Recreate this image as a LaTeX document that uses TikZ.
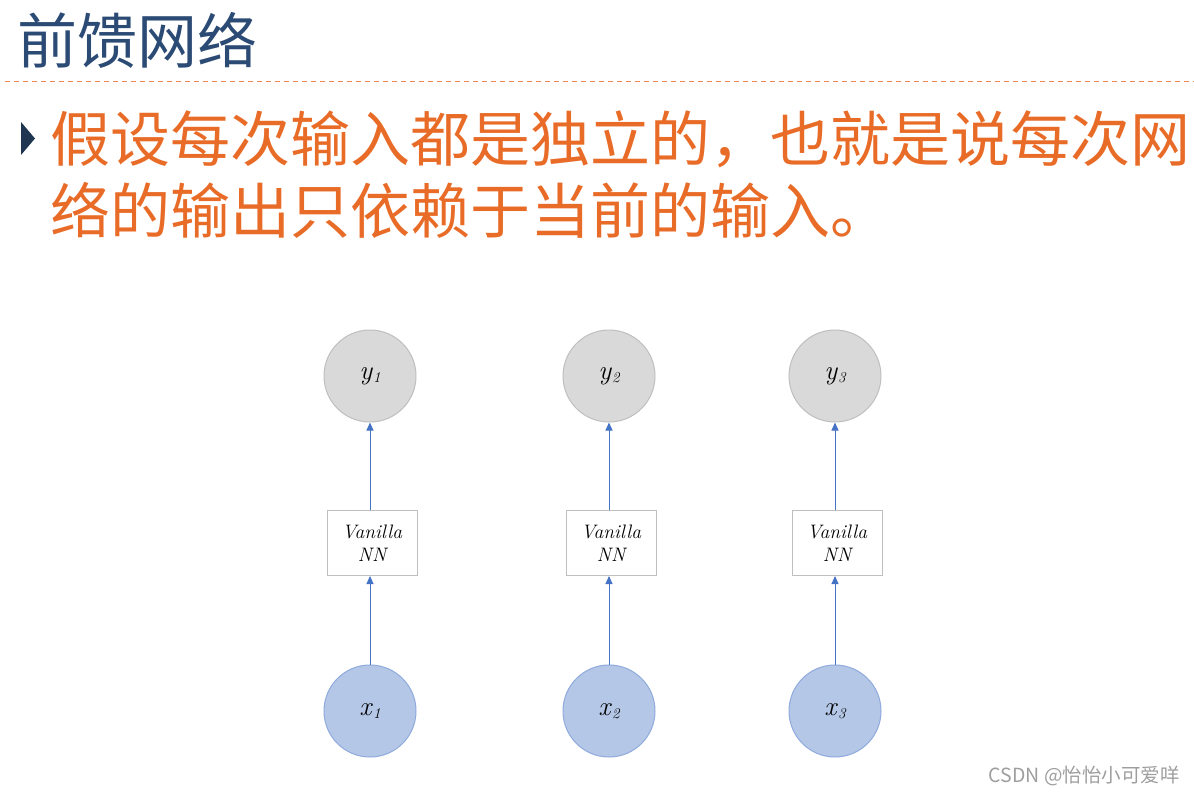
\documentclass[tikz,border=0pt]{standalone}
\usepackage{fontspec}
\usepackage{xcolor}
\usepackage{amsmath}
\usetikzlibrary{arrows.meta}
\newfontfamily\cjk{Noto Sans CJK SC}

\definecolor{titleblue}{RGB}{43,74,116}
\definecolor{bodyorange}{RGB}{232,108,40}
\definecolor{navy}{RGB}{31,53,80}
\definecolor{ygray}{RGB}{217,217,217}
\definecolor{ygrayline}{RGB}{191,191,191}
\definecolor{xblue}{RGB}{180,199,231}
\definecolor{xblueline}{RGB}{143,170,220}
\definecolor{arrowblue}{RGB}{68,114,196}

% italic letter with a small lowered digit
\newcommand{\steplab}[2]{\textit{#1}\raisebox{-0.25ex}{\fontsize{15}{15}\selectfont\itshape #2}}

\tikzset{
  outnode/.style={circle, draw=ygrayline, fill=ygray, line width=1pt, minimum size=92pt, inner sep=0pt, font=\fontsize{27}{29}\selectfont},
  innode/.style={circle, draw=xblueline, fill=xblue, line width=1pt, minimum size=92pt, inner sep=0pt, font=\fontsize{27}{29}\selectfont},
  nnbox/.style={draw=ygrayline, fill=white, line width=1pt, minimum width=90pt, minimum height=65pt, inner sep=0pt, align=center, font=\fontsize{19.5}{23}\selectfont\itshape},
  feed/.style={draw=arrowblue, line width=1pt, -{Triangle[width=7pt,length=8pt]}}
}

\begin{document}
\begin{tikzpicture}[x=1pt,y=-1pt]
             \useasboundingbox (0,0) rectangle (1194,795);

             \node[anchor=west, inner sep=0pt, text=titleblue, font=\cjk\fontsize{60}{64}\selectfont] (title) at (17,40) {前馈网络};
             \draw[bodyorange!80, line width=0.8pt, dash pattern=on 5pt off 4pt] (5,81) -- (1194,81);

             \fill[navy] (21,122) -- (35,138.5) -- (21,155) -- cycle;
             \node[anchor=west, inner sep=0pt, text=bodyorange, font=\cjk\fontsize{60}{64}\selectfont] (line1) at (50,139) {假设每次输入都是独立的，也就是说每次网};
             \node[anchor=west, inner sep=0pt, text=bodyorange, font=\cjk\fontsize{60}{64}\selectfont] (line2) at (50,210) {络的输出只依赖于当前的输入。};

             % three separate feed-forward steps
             \node[outnode] (y1) at (370,376) {\steplab{y}{1}};
             \node[nnbox] (nn1) at (372,543) {Vanilla\\NN};
             \node[innode] (x1) at (370,711) {\steplab{x}{1}};

             \node[outnode] (y2) at (609,376) {\steplab{y}{2}};
             \node[nnbox] (nn2) at (611,543) {Vanilla\\NN};
             \node[innode] (x2) at (609,711) {\steplab{x}{2}};

             \node[outnode] (y3) at (835,376) {\steplab{y}{3}};
             \node[nnbox] (nn3) at (837,543) {Vanilla\\NN};
             \node[innode] (x3) at (835,711) {\steplab{x}{3}};

             \draw[feed] (x1) -- (nn1.south -| x1);
             \draw[feed] (nn1.north -| y1) -- (y1);
             \draw[feed] (x2) -- (nn2.south -| x2);
             \draw[feed] (nn2.north -| y2) -- (y2);
             \draw[feed] (x3) -- (nn3.south -| x3);
             \draw[feed] (nn3.north -| y3) -- (y3);

             \node[anchor=east, inner sep=0pt, text=black!38, font=\cjk\fontsize{19.5}{21}\selectfont] (mark) at (1180,776) {CSDN @怡怡小可爱咩};
\end{tikzpicture}
\end{document}
